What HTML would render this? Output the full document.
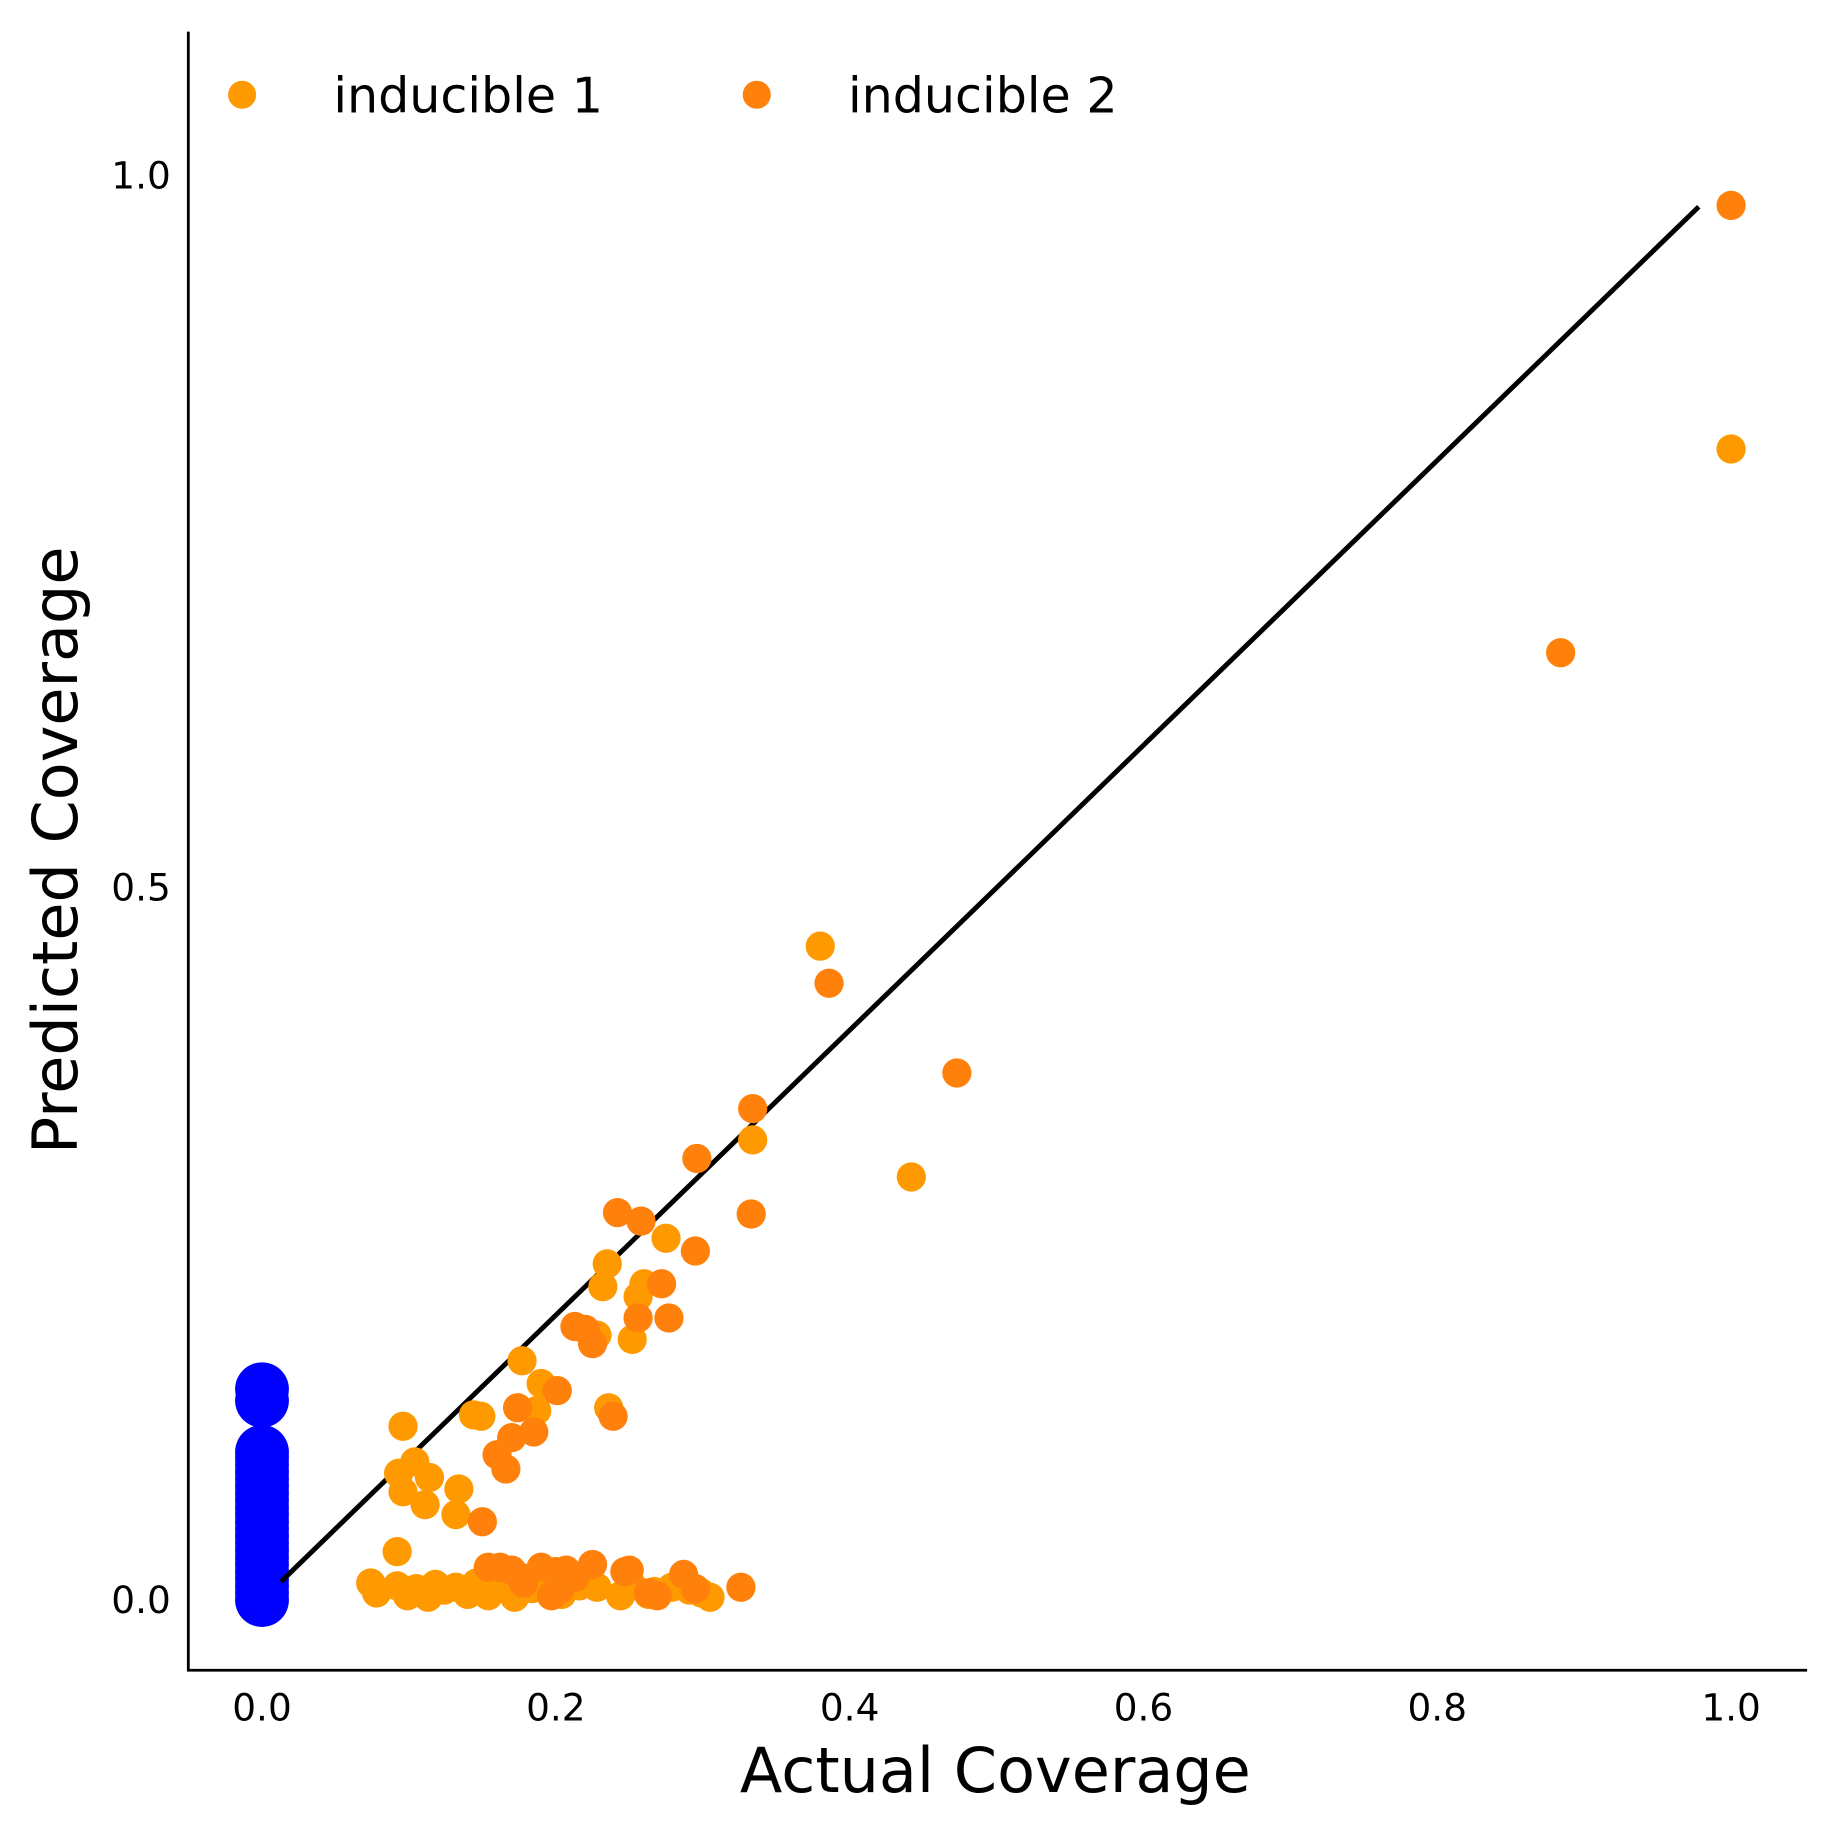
<!DOCTYPE html>
<html><head><meta charset="utf-8"><style>
html,body{margin:0;padding:0;background:#fff;}
svg{display:block;font-family:"DejaVu Sans","Liberation Sans",sans-serif;}
</style></head><body>
<svg id="chart" width="1834" height="1834" viewBox="0 0 1568 1568" xmlns="http://www.w3.org/2000/svg">
<g id="marks"></g>
<g id="axes"></g>
<g id="legend">
  <circle cx="207" cy="81" r="12" fill="#ff9900"/>
  <text x="285" y="96" font-size="42" fill="#000">inducible 1</text>
  <circle cx="647" cy="81" r="12" fill="#ff800a"/>
  <text x="725" y="96" font-size="42" fill="#000">inducible 2</text>
</g>
<text x="851" y="1532" font-size="53" text-anchor="middle" fill="#000">Actual Coverage</text>
<text transform="translate(66,727) rotate(-90)" font-size="53" text-anchor="middle" fill="#000">Predicted Coverage</text>
</svg>
<script>
const xTicks = [0.0, 0.2, 0.4, 0.6, 0.8, 1.0];
const xTickLabels = ["0.0", "0.2", "0.4", "0.6", "0.8", "1.0"];
const yTicks = [0.0, 0.5, 1.0];
const yTickLabels = ["0.0", "0.5", "1.0"];
const ind1X = [1.0,0.380,0.334,0.442,0.275,0.235,0.232,0.260,0.256,0.228,0.252,0.177,0.190,0.236,0.187,0.144,0.149,0.096,0.104,0.093,0.114,0.096,0.111,0.134,0.132,0.092,
  0.074,0.078,0.092,0.099,0.105,0.113,0.118,0.124,0.132,0.140,0.146,0.154,0.164,0.172,0.184,0.196,0.204,0.216,0.228,0.244,0.252,0.263,0.267,0.279,0.291,0.299,0.305];
const ind1Y = [0.808,0.459,0.323,0.297,0.254,0.236,0.220,0.222,0.213,0.186,0.183,0.168,0.152,0.135,0.133,0.130,0.129,0.122,0.097,0.089,0.086,0.076,0.067,0.078,0.060,0.034,
  0.012,0.005,0.010,0.003,0.008,0.002,0.011,0.007,0.009,0.004,0.012,0.003,0.009,0.002,0.008,0.011,0.004,0.010,0.009,0.003,0.010,0.004,0.006,0.009,0.007,0.005,0.002];
const ind2X = [1.0,0.884,0.386,0.473,0.334,0.296,0.242,0.258,0.333,0.295,0.272,0.256,0.277,0.213,0.220,0.225,0.201,0.239,0.174,0.185,0.170,0.160,0.166,0.150,
  0.154,0.162,0.170,0.176,0.190,0.200,0.207,0.213,0.225,0.247,0.250,0.287,0.295,0.326,0.263,0.269,0.197,0.203,0.178];
const ind2Y = [0.979,0.665,0.433,0.370,0.345,0.310,0.272,0.266,0.271,0.245,0.222,0.198,0.198,0.192,0.190,0.180,0.147,0.129,0.135,0.118,0.114,0.102,0.092,0.055,
  0.023,0.023,0.021,0.016,0.023,0.020,0.021,0.016,0.025,0.020,0.021,0.018,0.008,0.009,0.005,0.003,0.003,0.008,0.012];
const baseX = [0,0,0,0,0,0,0,0,0,0,0,0,0,0,0,0,0,0,0,0,0,0,0,0];
const baseY = [0.0,0.005,0.01,0.015,0.02,0.025,0.03,0.035,0.04,0.045,0.05,0.055,0.06,0.065,0.07,0.075,0.08,0.085,0.09,0.095,0.1,0.104,0.14,0.148];
const diagX = [0.013, 0.978];
const diagY = [0.013, 0.978];

const NS = "http://www.w3.org/2000/svg";
function sx(v){ return 224 + 1256*v; }
function sy(v){ return 1368 - 1218*v; }
const marks = document.getElementById('marks');
const axes = document.getElementById('axes');
function mk(tag, attrs, parent){ const e=document.createElementNS(NS,tag); for(const k in attrs) e.setAttribute(k,attrs[k]); parent.appendChild(e); return e; }

let sp = mk('line',{x1:161,y1:27,x2:161,y2:1429,stroke:'#000','stroke-width':2.4},axes);


sp = mk('line',{x1:160,y1:1428,x2:1545,y2:1428,stroke:'#000','stroke-width':2.4},axes);


xTicks.forEach((t,i)=>{
  const e = mk('text',{x:sx(t),y:1471,'font-size':32,'text-anchor':'middle',fill:'#000'},axes);
  e.textContent = xTickLabels[i];
  
  
});
yTicks.forEach((t,i)=>{
  const e = mk('text',{x:146,y:sy(t)+11,'font-size':32,'text-anchor':'end',fill:'#000'},axes);
  e.textContent = yTickLabels[i];
  
  
});

baseX.forEach((v,i)=>{
  const c = mk('circle',{cx:sx(v),cy:sy(baseY[i]),r:23,fill:'#0000ff'},marks);
  
  
});
const dl = mk('line',{x1:sx(diagX[0]),y1:sy(diagY[0]),x2:sx(diagX[1]),y2:sy(diagY[1]),stroke:'#000','stroke-width':4.2},marks);


ind1X.forEach((v,i)=>{
  const c = mk('circle',{cx:sx(v),cy:sy(ind1Y[i]),r:12.5,fill:'#ff9900'},marks);
  
  
});
ind2X.forEach((v,i)=>{
  const c = mk('circle',{cx:sx(v),cy:sy(ind2Y[i]),r:12.5,fill:'#ff800a'},marks);
  
  
});
</script>
</body></html>
